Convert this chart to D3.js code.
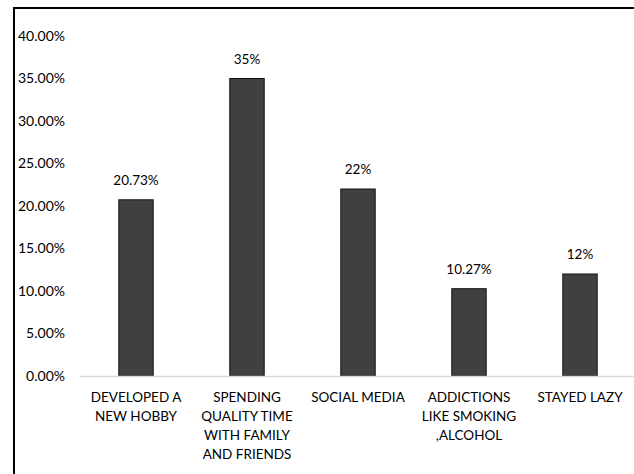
<!DOCTYPE html>
<html><head><meta charset="utf-8">
<script src="https://cdn.jsdelivr.net/npm/d3@7"></script>
<style>body{margin:0;background:#fff;} text{font-family:Lato,"Open Sans",sans-serif;}</style>
</head><body>
<svg id="c" width="634" height="474"></svg>
<script>
const categories = ["DEVELOPED A\nNEW HOBBY","SPENDING\nQUALITY TIME\nWITH FAMILY\nAND FRIENDS","SOCIAL MEDIA","ADDICTIONS\nLIKE SMOKING\n,ALCOHOL","STAYED LAZY"];
const values = [0.2073, 0.35, 0.22, 0.1027, 0.12];
const valueLabels = ["20.73%","35%","22%","10.27%","12%"];
const yTicks = [0,0.05,0.10,0.15,0.20,0.25,0.30,0.35,0.40];

const svg = d3.select("#c");
const x = d3.scaleBand().domain(categories).range([80.5, 635.5]).paddingInner(0.69).paddingOuter(0.345);
const y = d3.scaleLinear().domain([0,0.40]).range([376, 36]);

// frame
svg.append("line").attr("x1",14).attr("x2",634).attr("y1",8).attr("y2",8).attr("stroke","#000").attr("stroke-width",2);
svg.append("line").attr("x1",14).attr("x2",14).attr("y1",7).attr("y2",474).attr("stroke","#000").attr("stroke-width",2);

// y axis labels
const yAxis = d3.axisLeft(y).tickValues(yTicks).tickFormat(d3.format(".2%")).tickSize(0).tickPadding(0);
const ga = svg.append("g").attr("transform","translate(65,0)").call(yAxis);
ga.select(".domain").remove();
ga.selectAll("text").attr("font-size",14).attr("fill","#000").style("font-family","Lato");

// bars
svg.selectAll("rect.bar").data(values).join("rect").attr("class","bar")
  .attr("x",(d,i)=>x(categories[i])).attr("width",x.bandwidth())
  .attr("y",d=>y(d)).attr("height",d=>y(0)-y(d))
  .attr("fill","#404040").attr("stroke","#111").attr("stroke-width",1);

// baseline
svg.append("line").attr("x1",80).attr("x2",634).attr("y1",y(0)+0.5).attr("y2",y(0)+0.5).attr("stroke","#d9d9d9").attr("stroke-width",1.5);

// value labels
svg.selectAll("text.val").data(values).join("text").attr("class","val")
  .attr("x",(d,i)=>x(categories[i])+x.bandwidth()/2).attr("y",d=>y(d)-15)
  .attr("text-anchor","middle").attr("font-size",13.5).attr("fill","#000")
  .text((d,i)=>valueLabels[i]);

// category labels
const cg = svg.selectAll("text.cat").data(categories).join("text").attr("class","cat")
  .attr("text-anchor","middle").attr("font-size",13.5).attr("fill","#000")
  .attr("transform",d=>`translate(${x(d)+x.bandwidth()/2},402)`);
cg.each(function(d){
  const lines = d.split("\n");
  d3.select(this).selectAll("tspan").data(lines).join("tspan").attr("x",0).attr("dy",(l,i)=>i===0?0:19).text(l=>l);
});
</script>
</body></html>
